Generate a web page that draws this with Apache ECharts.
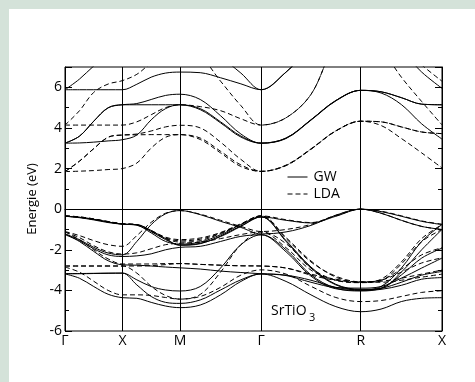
<!DOCTYPE html>
<html>
<head>
<meta charset="utf-8">
<script src="https://cdn.jsdelivr.net/npm/echarts@6/dist/echarts.min.js"></script>
<style>
html,body{margin:0;padding:0;background:#fff;}
#c{width:475px;height:382px;}
</style>
</head>
<body>
<div id="c"></div>
<script>
// k-path positions (Γ-X-M-Γ-R-X), sample grid
const kTicks = [0, 0.5, 1.0, 1.7071, 2.5731, 3.2802];
const kLabels = ['Γ', 'X', 'M', 'Γ', 'R', 'X'];
const kGrid = [0, 0.125, 0.25, 0.375, 0.5, 0.625, 0.75, 0.875, 1.0, 1.1768, 1.3536, 1.5303, 1.7071,
  1.9236, 2.1401, 2.3566, 2.5731, 2.7499, 2.9266, 3.1034, 3.2802];
const yTicks = [-6, -4, -2, 0, 2, 4, 6];

// GW conduction bands (eV)
const gc1 = [3.25,3.26,3.3,3.36,3.42, 3.65,4.4,4.95,5.14, 4.95,4.3,3.6,3.25, 3.5,4.4,5.35,5.85, 5.72,5.15,4.2,3.45];
const gc2 = [3.25,3.59,4.33,4.99,5.14, 5.14,5.14,5.14,5.14, 4.9,4.25,3.55,3.25, 3.48,4.38,5.33,5.85, 5.78,5.49,5.17,5.14];
const gc3 = [3.25,3.59,4.33,4.99,5.14, 5.2,5.4,5.6,5.66, 5.4,4.6,3.7,3.25, 3.5,4.4,5.35,5.85, 5.78,5.49,5.17,5.14];
const gc4 = [5.88,5.88,5.88,5.88,5.88, 6.15,6.5,6.7,6.75, 6.72,6.47,6.17,5.88, 6.75,7.9,8.5,8.7, 8.6,7.8,6.75,5.95];
const gc5 = [5.88,6.4,7.05,7.6,7.9, 8.1,8.25,8.3,8.3, 8.1,7.5,6.7,5.88, 6.75,7.9,8.5,8.7, 8.6,8.3,8.2,8.0];

// LDA conduction bands (eV)
const lc1 = [1.85,1.87,1.9,1.95,2.0, 2.27,3.01,3.54,3.67, 3.43,2.77,2.1,1.86, 2.15,2.95,3.85,4.33, 4.12,3.48,2.77,2.03];
const lc2 = [1.85,2.36,2.98,3.54,3.65, 3.66,3.67,3.67,3.67, 3.5,2.85,2.18,1.86, 2.17,2.97,3.86,4.33, 4.3,4.05,3.8,3.72];
const lc3 = [1.85,2.36,2.98,3.54,3.65, 3.7,3.85,4.05,4.13, 4.0,3.3,2.45,1.86, 2.15,2.95,3.85,4.33, 4.3,4.05,3.8,3.72];
const lc4 = [4.14,4.14,4.14,4.14,4.14, 4.3,4.65,5.0,5.14, 5.05,4.85,4.45,4.14, 4.5,5.65,8.1,8.8, 7.9,6.5,5.3,4.15];
const lc5 = [4.14,4.84,5.75,6.16,6.33, 6.64,7.2,7.6,7.75, 7.5,6.3,5.1,4.14, 4.5,5.65,8.1,8.8, 8.7,8.0,7.1,6.3];

// GW valence bands (eV)
const gv1 = [-0.35,-0.4,-0.5,-0.63,-0.74, -0.79,-1.17,-1.59,-1.72, -1.62,-1.26,-0.76,-0.38, -0.55,-0.68,-0.35,0.0, -0.12,-0.35,-0.6,-0.76];
const gv2 = [-0.35,-0.4,-0.5,-0.63,-0.74, -0.76,-1.05,-1.45,-1.78, -1.7,-1.32,-0.82,-0.38, -1.59,-2.9,-3.73,-3.98, -3.81,-2.9,-1.59,-0.76];
const gv3 = [-1.22,-1.5,-1.88,-2.16,-2.25, -1.59,-0.76,-0.23,-0.07, -0.27,-0.6,-0.9,-1.22, -1.12,-0.8,-0.3,0.0, -0.2,-0.55,-0.85,-1.0];
const gv4 = [-1.26,-1.55,-1.95,-2.25,-2.33, -2.3,-2.2,-2.0,-1.88, -1.83,-1.59,-1.34,-1.26, -2.0,-3.24,-3.89,-4.03, -3.89,-3.24,-2.41,-1.92];
const gv5 = [-1.22,-1.59,-2.08,-2.54,-2.74, -2.76,-2.8,-2.85,-2.89, -2.95,-3.05,-3.12,-3.18, -3.27,-3.6,-3.86,-3.89, -3.81,-3.4,-2.9,-2.41];
const gv6 = [-3.18,-3.18,-3.17,-3.16,-3.15, -3.48,-3.81,-3.98,-4.03, -3.81,-2.9,-1.75,-1.26, -2.1,-3.3,-3.92,-4.0, -3.95,-3.75,-3.45,-3.37];
const gv7 = [-3.19,-3.4,-3.81,-4.19,-4.36, -4.39,-4.59,-4.77,-4.85, -4.72,-4.22,-3.56,-3.19, -3.56,-4.22,-4.8,-5.05, -4.92,-4.55,-4.39,-4.36];
const gv8 = [-3.18,-3.17,-3.16,-3.15,-3.15, -3.73,-4.3,-4.59,-4.64, -4.47,-3.98,-3.48,-3.19, -3.25,-3.5,-3.85,-3.98, -3.9,-3.6,-3.25,-3.07];
const gv9 = [-0.35,-0.42,-0.53,-0.66,-0.74, -0.77,-1.1,-1.5,-1.76, -1.68,-1.35,-0.85,-0.38, -1.55,-2.85,-3.7,-3.95, -3.9,-3.1,-2.0,-1.0];

// LDA valence bands (eV)
const lv1 = [-0.33,-0.38,-0.48,-0.61,-0.72, -0.76,-1.05,-1.38,-1.5, -1.42,-1.15,-0.72,-0.33, -0.52,-0.66,-0.33,0.0, -0.1,-0.33,-0.58,-0.74];
const lv2 = [-0.33,-0.38,-0.48,-0.61,-0.72, -0.78,-1.1,-1.45,-1.62, -1.55,-1.2,-0.75,-0.33, -1.4,-2.55,-3.35,-3.6, -3.45,-2.6,-1.45,-0.76];
const lv3 = [-1.1,-1.3,-1.55,-1.75,-1.83, -1.3,-0.65,-0.2,-0.07, -0.25,-0.55,-0.85,-1.1, -1.0,-0.75,-0.3,0.0, -0.2,-0.55,-0.85,-1.0];
const lv4 = [-1.12,-1.4,-1.8,-2.1,-2.21, -2.15,-1.95,-1.75,-1.68, -1.62,-1.45,-1.25,-1.12, -1.7,-2.9,-3.5,-3.62, -3.5,-2.95,-2.25,-1.9];
const lv5 = [-1.12,-1.5,-2.0,-2.45,-2.7, -2.7,-2.7,-2.68,-2.68, -2.72,-2.76,-2.79,-2.8, -2.9,-3.25,-3.5,-3.58, -3.5,-3.1,-2.65,-2.4];
const lv6 = [-2.8,-2.8,-2.8,-2.8,-2.8, -3.15,-3.8,-4.25,-4.43, -4.2,-3.1,-1.75,-1.12, -1.9,-3.0,-3.5,-3.6, -3.55,-3.4,-3.2,-3.0];
const lv7 = [-2.85,-3.1,-3.55,-4.0,-4.22, -4.22,-4.25,-4.35,-4.43, -4.3,-3.85,-3.25,-2.99, -3.2,-3.8,-4.35,-4.55, -4.5,-4.3,-4.1,-4.02];
const lv8 = [-2.8,-2.8,-2.8,-2.8,-2.8, -2.8,-2.78,-2.73,-2.68, -2.72,-2.76,-2.79,-2.8, -2.9,-3.2,-3.45,-3.6, -3.6,-3.5,-3.35,-3.2];
const lv9 = [-0.33,-0.4,-0.5,-0.63,-0.72, -0.77,-1.08,-1.42,-1.56, -1.48,-1.18,-0.74,-0.33, -1.45,-2.6,-3.3,-3.58, -3.5,-2.7,-1.6,-1.0];

const gwBands = [gc1, gc2, gc3, gc4, gc5, gv1, gv2, gv3, gv4, gv5, gv6, gv7, gv8, gv9];
const ldaBands = [lc1, lc2, lc3, lc4, lc5, lv1, lv2, lv3, lv4, lv5, lv6, lv7, lv8, lv9];

const FONT = 'Open Sans';
const series = [];
function addBand(band, name, dashed) {
  series.push({
    type: 'line', name: name, smooth: 0.35, symbol: 'none', silent: true,
    clip: true, animation: false, z: dashed ? 2 : 3,
    itemStyle: { color: '#000' },
    lineStyle: { color: '#000', width: 1, type: dashed ? [5, 3] : 'solid' },
    data: kGrid.map((k, i) => [k, band[i]])
  });
}
ldaBands.forEach(b => addBand(b, 'LDA', true));
gwBands.forEach(b => addBand(b, 'GW', false));

series[0].markLine = {
  silent: true, symbol: ['none', 'none'], animation: false,
  label: { show: false },
  lineStyle: { color: '#000', width: 1, type: 'solid' },
  data: kTicks.slice(1, -1).map(v => ({ xAxis: v }))
};

function yAx(pos, interval, len, labels, line) {
  return {
    type: 'value', position: pos, min: -6, max: 7, interval: interval,
    axisLine: { show: line, lineStyle: { color: '#000', width: 1 } },
    axisTick: { show: true, inside: true, length: len, lineStyle: { color: '#000', width: 1 } },
    axisLabel: labels ? {
      show: true, color: '#000', fontSize: 14, fontFamily: FONT, margin: 3,
      formatter: v => (yTicks.indexOf(v) >= 0 ? String(v) : '')
    } : { show: false },
    splitLine: { show: false },
    name: labels ? 'Energie (eV)' : '',
    nameLocation: 'middle', nameGap: 14,
    nameTextStyle: { color: '#000', fontSize: 13, fontFamily: FONT }
  };
}

const chart = echarts.init(document.getElementById('c'), null, { renderer: 'canvas' });
chart.setOption({
  animation: false,
  backgroundColor: '#fff',
  grid: { left: 65, top: 67, right: 33, bottom: 51, show: true, borderColor: '#000', borderWidth: 1, backgroundColor: 'transparent' },
  xAxis: {
    type: 'value', min: 0, max: kTicks[kTicks.length - 1],
    axisLine: { show: true, lineStyle: { color: '#000', width: 1 } },
    axisTick: { show: false },
    splitLine: { show: false },
    axisLabel: {
      show: true, customValues: kTicks, color: '#000', fontSize: 14, fontFamily: FONT, margin: 3,
      showMinLabel: true, showMaxLabel: true,
      formatter: v => { const i = kTicks.findIndex(t => Math.abs(t - v) < 1e-3); return i >= 0 ? kLabels[i] : ''; }
    }
  },
  yAxis: [
    yAx('left', 2, 7, true, true),
    yAx('right', 2, 7, false, true),
    yAx('left', 1, 4, false, false),
    yAx('right', 1, 4, false, false)
  ],
  legend: {
    data: ['GW', 'LDA'], orient: 'vertical', left: 287, top: 170, padding: 0,
    itemWidth: 20, itemHeight: 14, itemGap: 3,
    itemStyle: { color: 'transparent', borderColor: 'transparent', borderWidth: 0 },
    lineStyle: { color: '#000', width: 1 },
    textStyle: { color: '#000', fontSize: 14, fontFamily: FONT, padding: [0, 0, 0, 1] },
    selectedMode: false
  },
  graphic: [
    { type: 'rect', z: -10, shape: { x: 0, y: 0, width: 475, height: 9 }, style: { fill: '#d4e2d9' } },
    { type: 'rect', z: -10, shape: { x: 0, y: 0, width: 9, height: 382 }, style: { fill: '#d4e2d9' } },
    { type: 'text', left: 271, top: 304, style: { text: 'SrTiO', fill: '#000', fontSize: 14, fontFamily: FONT } },
    { type: 'text', left: 309, top: 312, style: { text: '3', fill: '#000', fontSize: 11, fontFamily: FONT } }
  ],
  series: series
});
</script>
</body>
</html>
